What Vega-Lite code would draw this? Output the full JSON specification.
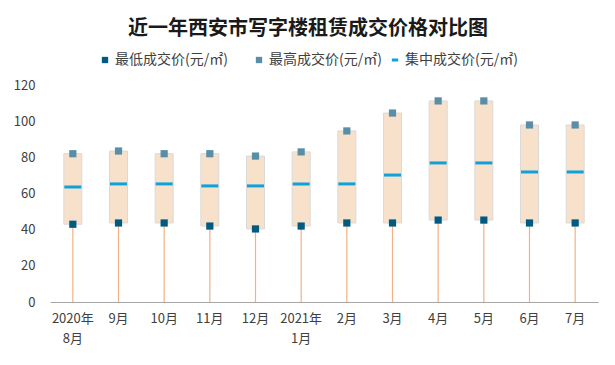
{
  "$schema": "https://vega.github.io/schema/vega-lite/v6.json",
  "autosize": "none",
  "width": 548,
  "height": 217,
  "padding": {"left": 50, "right": 17, "top": 85, "bottom": 63},
  "background": "white",
  "config": {
    "view": {"stroke": null},
    "font": "Noto Sans CJK SC",
    "axis": {"labelFont": "Noto Sans CJK SC", "labelColor": "#404040", "labelFontSize": 13},
    "legend": {"title": null, "orient": "none", "labelFont": "Noto Sans CJK SC", "labelFontSize": 14, "labelColor": "#404040", "labelOffset": 3, "symbolSize": 40, "symbolOpacity": 1}
  },
  "title": {
    "text": "近一年西安市写字楼租赁成交价格对比图",
    "font": "Noto Sans CJK SC",
    "fontSize": 20,
    "fontWeight": "bold",
    "color": "#1a1a1a",
    "anchor": "middle",
    "frame": "group",
    "dx": -16,
    "offset": 14
  },
  "resolve": {"scale": {"color": "independent"}, "legend": {"color": "independent"}},
  "data": {
    "values": [
      {"month": "2020年|8月", "low": 43, "high": 82, "mid": 63.6},
      {"month": "9月", "low": 43.7, "high": 83.5, "mid": 65.3},
      {"month": "10月", "low": 43.7, "high": 82, "mid": 65.3},
      {"month": "11月", "low": 42, "high": 82, "mid": 64.2},
      {"month": "12月", "low": 40.4, "high": 80.7, "mid": 64.2},
      {"month": "2021年|1月", "low": 42, "high": 83, "mid": 65.3},
      {"month": "2月", "low": 43.7, "high": 94.6, "mid": 65.3},
      {"month": "3月", "low": 43.7, "high": 104.5, "mid": 70.2},
      {"month": "4月", "low": 45.3, "high": 111.2, "mid": 76.9},
      {"month": "5月", "low": 45.3, "high": 111.2, "mid": 76.9},
      {"month": "6月", "low": 43.7, "high": 97.9, "mid": 71.9},
      {"month": "7月", "low": 43.7, "high": 97.9, "mid": 71.9}
    ]
  },
  "encoding": {
    "x": {
      "field": "month",
      "type": "nominal",
      "sort": null,
      "scale": {"paddingInner": 0, "paddingOuter": 0},
      "axis": {
        "title": null,
        "labelAngle": 0,
        "ticks": false,
        "domainColor": "#A6A6A6",
        "labelPadding": 10,
        "labelLineHeight": 20,
        "labelExpr": "split(datum.label, '|')"
      }
    }
  },
  "layer": [
    {
      "mark": {"type": "rule", "color": "#F4B183", "strokeWidth": 1.2},
      "encoding": {
        "y": {"field": "low", "type": "quantitative", "scale": {"domain": [0, 120], "nice": false},
          "axis": {"title": null, "domain": false, "ticks": false, "grid": false, "values": [0, 20, 40, 60, 80, 100, 120], "labelOverlap": false, "labelPadding": 15}},
        "y2": {"datum": 0}
      }
    },
    {
      "mark": {"type": "bar", "size": 18, "fill": "#F8E1CB", "stroke": "#D9D9D9", "strokeWidth": 1},
      "encoding": {
        "y": {"field": "low", "type": "quantitative",
          "axis": {"title": null, "domain": false, "ticks": false, "grid": false, "values": [0, 20, 40, 60, 80, 100, 120], "labelOverlap": false, "labelPadding": 15}},
        "y2": {"field": "high"}
      }
    },
    {
      "mark": {"type": "tick", "size": 17, "thickness": 3, "opacity": 1},
      "encoding": {
        "y": {"field": "mid", "type": "quantitative",
          "axis": {"title": null, "domain": false, "ticks": false, "grid": false, "values": [0, 20, 40, 60, 80, 100, 120], "labelOverlap": false, "labelPadding": 15}},
        "color": {"datum": "集中成交价(元/㎡)", "type": "nominal",
          "scale": {"domain": ["集中成交价(元/㎡)"], "range": ["#0EA1DA"]},
          "legend": {"legendX": 338, "legendY": -32, "symbolType": "stroke", "symbolStrokeWidth": 3, "symbolStrokeColor": "#0EA1DA", "symbolSize": 40}}
      }
    },
    {
      "mark": {"type": "point", "shape": "square", "filled": true, "size": 52, "opacity": 1},
      "encoding": {
        "y": {"field": "low", "type": "quantitative",
          "axis": {"title": null, "domain": false, "ticks": false, "grid": false, "values": [0, 20, 40, 60, 80, 100, 120], "labelOverlap": false, "labelPadding": 15}},
        "color": {"datum": "最低成交价(元/㎡)", "type": "nominal",
          "scale": {"domain": ["最低成交价(元/㎡)"], "range": ["#005B82"]},
          "legend": {"legendX": 48, "legendY": -32, "symbolType": "square"}}
      }
    },
    {
      "mark": {"type": "point", "shape": "square", "filled": true, "size": 52, "opacity": 1},
      "encoding": {
        "y": {"field": "high", "type": "quantitative",
          "axis": {"title": null, "domain": false, "ticks": false, "grid": false, "values": [0, 20, 40, 60, 80, 100, 120], "labelOverlap": false, "labelPadding": 15}},
        "color": {"datum": "最高成交价(元/㎡)", "type": "nominal",
          "scale": {"domain": ["最高成交价(元/㎡)"], "range": ["#5A8EA6"]},
          "legend": {"legendX": 202, "legendY": -32, "symbolType": "square"}}
      }
    }
  ]
}
